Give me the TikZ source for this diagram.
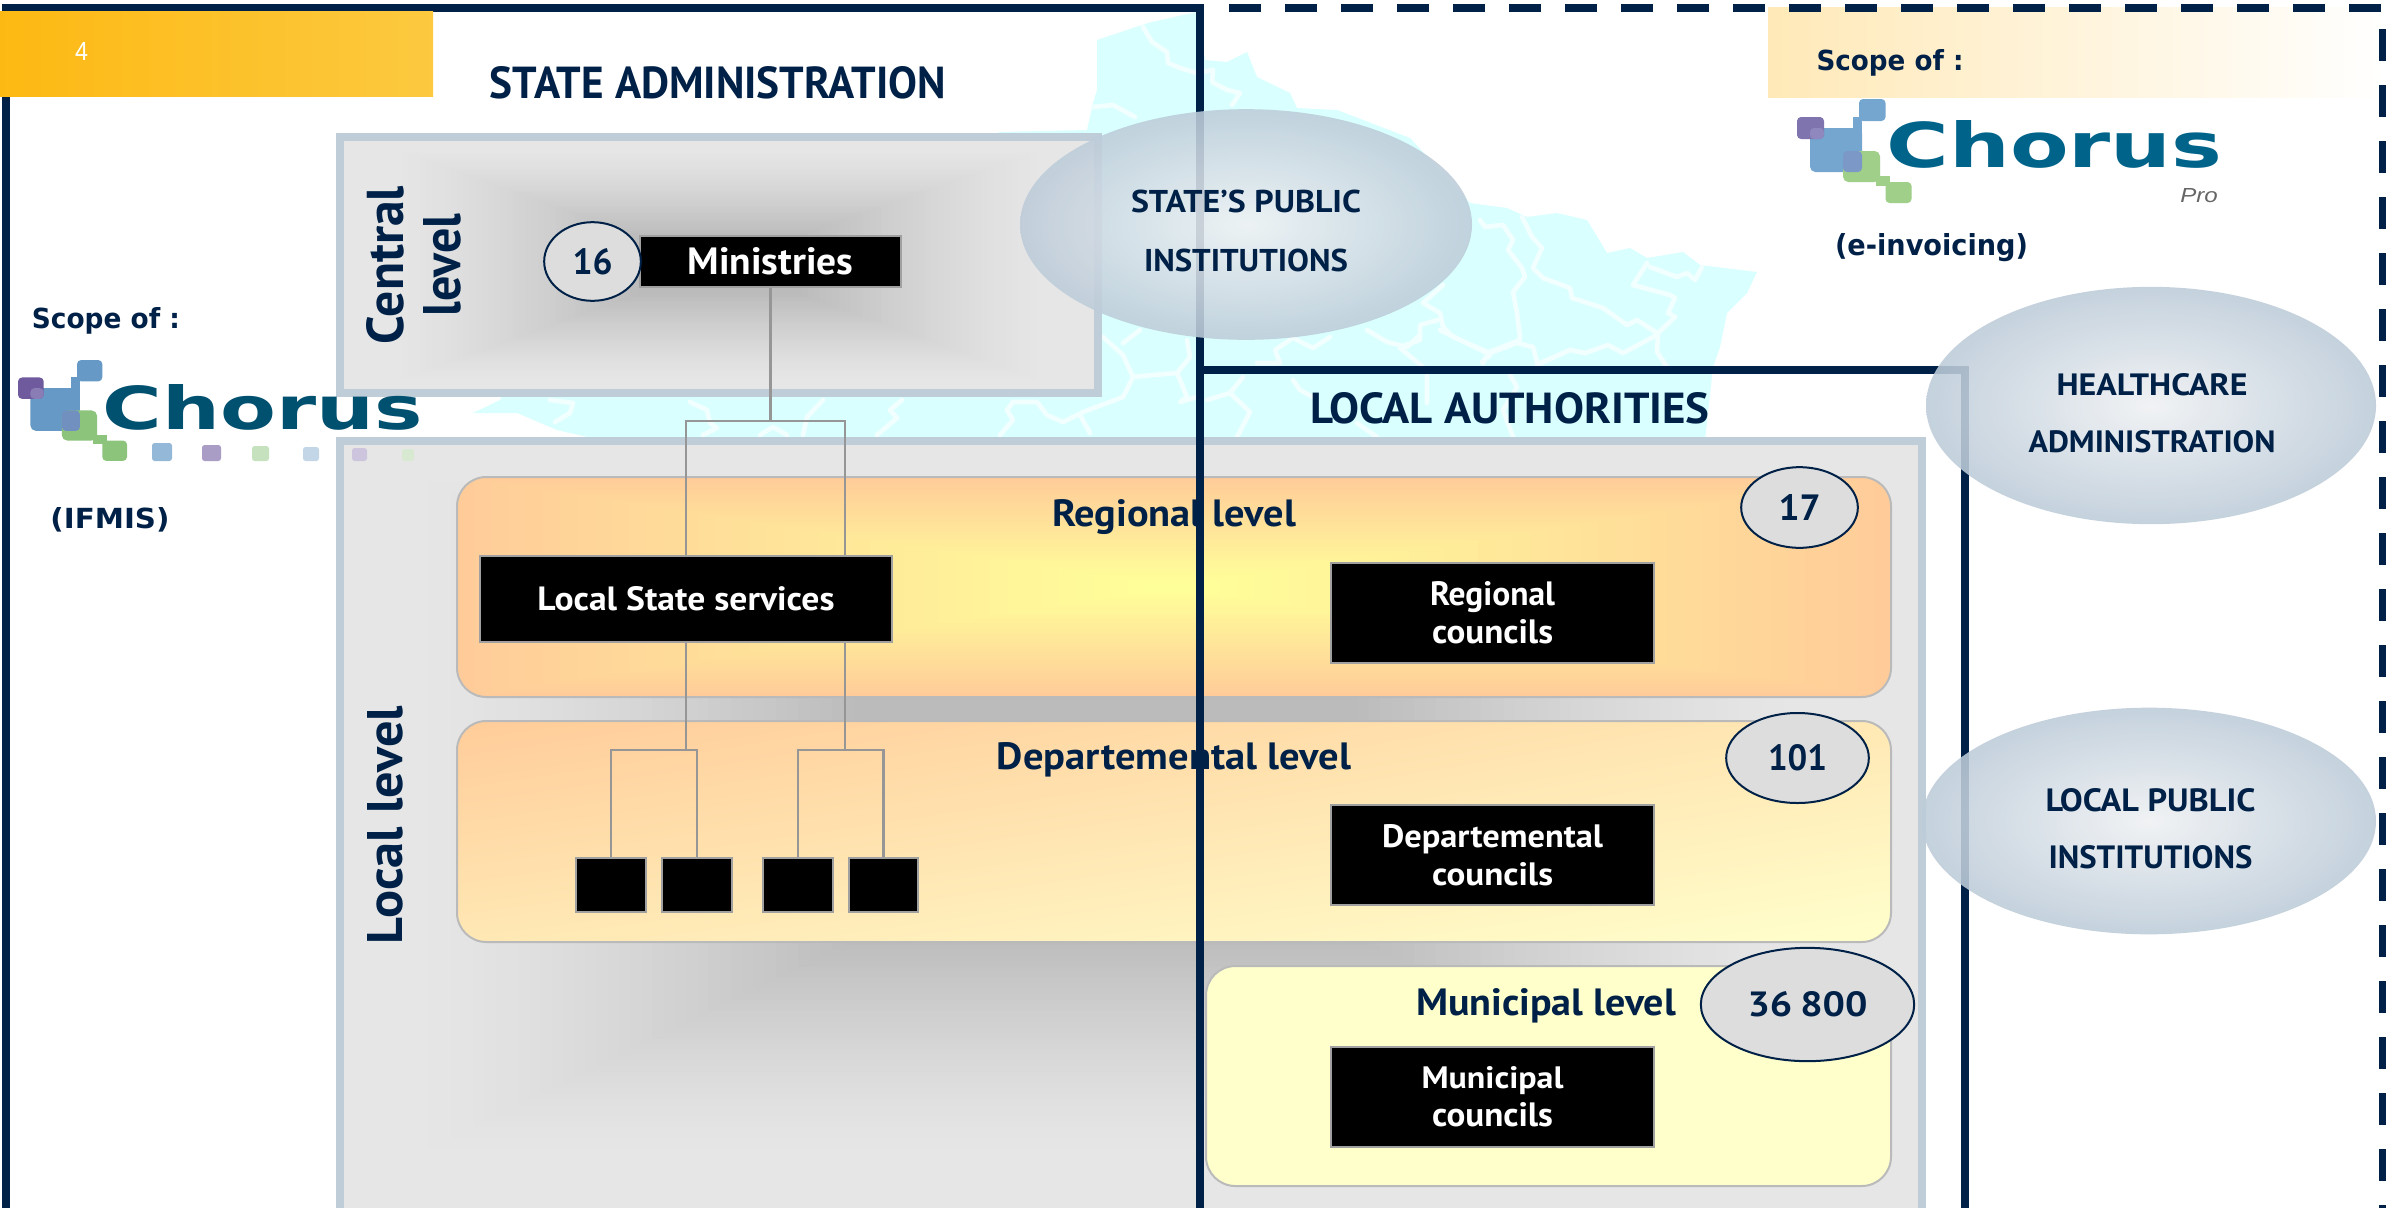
\documentclass[tikz,border=0pt]{standalone}
\usepackage{fontspec}
\usetikzlibrary{shapes.geometric,shadings}
\setmainfont{PT Sans}
\newfontfamily\verd{DejaVu Sans}
\newfontfamily\arial{Liberation Sans}
\newlength\pxu \setlength\pxu{0.75pt}
\newcommand\fit[3]{\resizebox{#1\pxu}{#2\pxu}{#3}}
\definecolor{navy}{HTML}{002147}
\definecolor{panelb}{HTML}{BFCDD9}
\definecolor{conn}{HTML}{969696}
\definecolor{mapc}{HTML}{D9FFFF}
\definecolor{mapl}{HTML}{F2FFFF}
\definecolor{g1}{HTML}{E6E6E6}
\definecolor{g2}{HTML}{BBBBBB}
\definecolor{peach}{HTML}{FFCC99}
\definecolor{ylw}{HTML}{FFFF99}
\definecolor{cream}{HTML}{FFFFCC}
\definecolor{midband}{HTML}{FFE8B4}
\definecolor{tabl}{HTML}{FDB913}
\definecolor{tabr}{HTML}{FCC93F}
\definecolor{beige}{HTML}{FFE9B8}
\definecolor{ovalin}{HTML}{EFF1F3}
\definecolor{ovalout}{HTML}{BDCCD9}
\definecolor{boxline}{HTML}{A0A0A0}
\definecolor{countfill}{HTML}{DDDDDD}
\definecolor{bluea}{HTML}{74A6D0}
\definecolor{purplea}{HTML}{7F74AD}
\definecolor{greena}{HTML}{9FCF88}
\definecolor{overpa}{HTML}{8F88BF}
\definecolor{overga}{HTML}{7C98C6}
\definecolor{blueb}{HTML}{6699C6}
\definecolor{purpleb}{HTML}{6F5A9E}
\definecolor{greenb}{HTML}{8DC47B}
\definecolor{overpb}{HTML}{8A7DB5}
\definecolor{overgb}{HTML}{7190BF}
\definecolor{chorusa}{HTML}{00648A}
\definecolor{chorusb}{HTML}{005070}
% nested rectangles: colour #6 at the rim to #7 at the fraction #5 of the half extents, ramp exponent #8
\newcommand\rectgrad[8]{%
  \foreach \i in {0,...,40}{%
    \pgfmathsetmacro\tv{1-\i/40*(1-#5)}%
    \pgfmathsetmacro\pp{100*pow(\i/40,#8)}%
    \pgfmathsetmacro\xa{#1-\tv*#3}\pgfmathsetmacro\xb{#1+\tv*#3}%
    \pgfmathsetmacro\ya{#2-\tv*#4}\pgfmathsetmacro\yb{#2+\tv*#4}%
    \fill[#7!\pp!#6] (\xa,\ya) rectangle (\xb,\yb);
  }%
}
\newcommand\chorusmark[5]{%
  \fill[#1,rounded corners=4pt] (1810,128) rectangle (1862,172);
  \fill[#1] (1853,117) rectangle (1862,134);
  \fill[#1,rounded corners=3pt] (1859,99) rectangle (1885.5,121);
  \fill[#2,rounded corners=3pt] (1797,117) rectangle (1824,139);
  \fill[#4,rounded corners=3pt] (1810,128) rectangle (1824,139);
  \fill[#3,rounded corners=4pt] (1843,151) rectangle (1880,182);
  \fill[#3] (1876,176) rectangle (1890,186);
  \fill[#3,rounded corners=3pt] (1885.5,182) rectangle (1911.5,203);
  \fill[#5,rounded corners=3pt] (1843,151) rectangle (1862,172);
}
\tikzset{
  panel/.style={draw=panelb,line width=6pt},
  bandline/.style={draw=black!27,line width=1.5pt,rounded corners=22pt},
  blackbox/.style={draw=boxline,line width=1.5pt,fill=black,text=white,inner sep=0pt,align=center,font=\bfseries},
  smallbox/.style={draw=boxline,line width=1.5pt,fill=black,inner sep=0pt,minimum width=52pt,minimum height=40pt},
  tree/.style={draw=conn,line width=2pt},
  frameline/.style={draw=navy,line width=6pt},
  count/.style={ellipse,draw=navy,line width=1.5pt,fill=countfill,inner sep=0pt,text=navy,font=\bfseries},
  oval/.style={ellipse,inner sep=0pt,inner color=ovalin,outer color=ovalout,opacity=.88},
  head/.style={anchor=base,inner sep=0pt,text=navy,font=\bfseries},
  twoline/.style={anchor=south,inner sep=0pt,text=navy,align=center,font=\bfseries\fontsize{20}{#1}\selectfont},
  side/.style={anchor=base,rotate=90,inner sep=0pt,text=navy,font=\bfseries},
  scopetext/.style={anchor=base,inner sep=0pt,text=navy,font=\verd\bfseries},
}
\begin{document}
\begin{tikzpicture}[x=0.75pt,y=-0.75pt]
\path[use as bounding box] (0,0) rectangle (2386,1207);
\clip (0,0) rectangle (2386,1207);
\fill[white] (0,0) rectangle (2386,1207);
% map
\fill[mapc] (1097,40)--(1148,23)--(1183,15)--(1197,12)--(1205,60)--(1227,62)--(1247,52)--(1257,77)--(1290,93)--(1297,108)--(1337,110)--(1410,138)--(1470,203)--(1507,208)--(1527,217)--(1557,213)--(1587,220)--(1607,253)--(1630,248)--(1647,258)--(1683,252)--(1700,265)--(1757,272)--(1747,293)--(1727,313)--(1720,347)--(1713,367)--(1705,440)--(600,440)--(557,430)--(517,413)--(473,413)--(500,400)--(505,390)--(600,300)--(1000,132)--(1087,130)--(1093,103)--(1097,90)--cycle;
\draw[mapl,line width=3.5pt,line join=round,line cap=round]
 (1143,27)--(1152,42)--(1167,52)--(1168,63)--(1180,68)--(1197,73)--(1213,70)--(1212,82)--(1227,90)--(1240,93)--(1232,105)
 (1093,107)--(1113,105)--(1135,117)
 (1480,220)--(1485,227)--(1503,225)--(1513,240)--(1508,250)--(1522,268)--(1525,277)--(1513,292)--(1517,313)--(1520,337)--(1517,343)--(1533,347)--(1537,362)
 (1522,217)--(1532,237)--(1542,248)--(1533,268)--(1543,278)--(1570,288)--(1572,298)--(1603,308)--(1627,325)--(1637,320)--(1657,333)
 (1647,263)--(1633,285)--(1670,295)--(1675,298)--(1668,313)--(1675,317)--(1658,333)--(1657,352)--(1667,367)
 (1650,267)--(1677,277)--(1687,273)--(1695,280)--(1702,267)
 (1657,335)--(1623,353)--(1608,345)--(1585,353)--(1570,350)--(1540,363)
 (1443,285)--(1423,303)--(1440,313)--(1443,327)--(1453,337)--(1490,353)--(1517,343)
 (1438,320)--(1420,325)--(1420,340)--(1400,347)
 (1490,355)--(1482,362)
 (1103,337)--(1123,355)--(1133,377)--(1123,397)--(1083,412)--(1063,422)--(1047,415)--(1037,402)--(1013,402)--(1007,410)--(1013,420)--(1000,435)
 (1133,377)--(1153,375)--(1177,373)--(1187,397)--(1180,402)--(1197,397)
 (1140,330)--(1123,343)
 (1187,340)--(1190,357)--(1177,373)
 (1080,415)--(1090,433)
 (902,400)--(890,410)--(897,418)--(877,435)
 (1207,400)--(1230,393)--(1243,377)
 (1230,393)--(1250,412)--(1237,437)
 (1257,363)--(1280,363)--(1275,350)--(1290,340)
 (1293,338)--(1313,348)--(1330,337)
 (1367,330)--(1387,342)--(1407,347)--(1420,335)
 (1400,348)--(1423,367)
 (1440,330)--(1487,353)--(1520,340)
 (1487,355)--(1483,363)
 (1293,380)--(1300,390)--(1313,397)
 (1427,373)--(1427,403)
 (1510,375)--(1517,387)--(1503,410)--(1513,437)
 (1537,365)--(1570,350)
 (1357,423)--(1377,437)
 (550,400)--(573,403)--(570,413)--(555,422)
 (690,402)--(707,410)--(710,423)--(717,428)--(703,435)
 (823,400)--(807,417)--(803,435)
 (760,435)--(773,427)--(787,435);
% beige strip
\shade[left color=beige,right color=white] (1768,7) rectangle (2386,97);
% central panel
\begin{scope}
  \clip (340,137) rectangle (1098,393);
  \fill[g1] (340,137) rectangle (1098,393);
  \rectgrad{719}{265}{330}{118}{.25}{g1}{g2}{1.3}
\end{scope}
\draw[panel] (340,137) rectangle (1098,393);
% local panel
\begin{scope}
  \clip (340,441) rectangle (1922,1300);
  \fill[g1] (340,441) rectangle (1922,1300);
  \rectgrad{1106}{815}{700}{345}{.36}{g1}{g2}{1.4}
\end{scope}
\draw[panel] (340,441) rectangle (1922,1300);
% bands
\begin{scope}
  \clip[rounded corners=22pt] (457,477) rectangle (1891,697);
  \fill[peach] (457,477) rectangle (1891,697);
  \rectgrad{1174}{587}{717}{110}{.04}{peach}{ylw}{1}
\end{scope}
\draw[bandline] (457,477) rectangle (1891,697);
\shade[rounded corners=22pt,upper left=peach,lower right=cream,upper right=midband,lower left=midband] (457,721) rectangle (1891,942);
\draw[bandline] (457,721) rectangle (1891,942);
\fill[cream,rounded corners=22pt] (1206,966) rectangle (1891,1186);
\draw[bandline] (1206,966) rectangle (1891,1186);
% band headings
\node[head] (hreg) at (1174,526) {\fit{244}{27}{Regional level}};
\node[head] (hdep) at (1174,769) {\fit{354}{27}{Departemental level}};
\node[head] (hmun) at (1546,1015) {\fit{260}{27}{Municipal level}};
% black boxes
\node[blackbox,minimum width=196pt,minimum height=38pt] (mini) at (770.5,261.5) {\fit{166}{27}{Ministries}};
\node[blackbox,minimum width=309pt,minimum height=64.5pt] (lss) at (686,599) {\fit{297}{24}{Local State services}};
\node[smallbox] (sa) at (611,885) {};
\node[smallbox] (sb) at (697,885) {};
\node[smallbox] (sc) at (798,885) {};
\node[smallbox] (sd) at (883.5,885) {};
\tikzset{blackbox/.append style={minimum width=242pt,minimum height=75pt,font=\bfseries\fontsize{20}{28.5}\selectfont}}
\node[blackbox] (rc) at (1492.5,612.5) {\fit{125}{24}{Regional}\\\fit{121}{24}{councils}};
\node[blackbox] (dc) at (1492.5,855) {\fit{221}{23}{Departemental}\\\fit{121}{23}{councils}};
\node[blackbox] (mc) at (1492.5,1096.5) {\fit{142}{22}{Municipal}\\\fit{121}{24}{councils}};
% tree
\coordinate (jm) at (770.5,421);
\coordinate (jl) at (686,421);
\coordinate (jr) at (845,421);
\coordinate (dl) at (686,750);
\coordinate (dr) at (845,750);
\draw[tree] (mini.south) -- (jm);
\draw[tree] (lss.north) -- (jl) -- (jr) -- (jr |- lss.north);
\draw[tree] (lss.south) -- (dl);
\draw[tree] (jr |- lss.south) -- (dr);
\draw[tree] (sa.north) |- (dl) -| (sb.north);
\draw[tree] (sc.north) |- (dr) -| (sd.north);
% side labels
\node[side] (lc) at (403,265) {\fit{158}{37}{Central}};
\node[side] (ll) at (460,265) {\fit{103}{37}{level}};
\node[side] (lo) at (402,825) {\fit{238}{35}{Local level}};
% frames
\draw[frameline] (6,1220) -- (6,8) -- (1200,8) -- (1200,1220);
\draw[frameline] (1200,370) -- (1965,370) -- (1965,1220);
\draw[frameline,dash pattern=on 24pt off 18pt] (1229,8) -- (2386,8);
\draw[frameline,dash pattern=on 24pt off 18pt] (2383,29) -- (2383,1220);
% slide tab
\shade[left color=tabl,right color=tabr] (0,11.5) rectangle (433,96.5);
\node[anchor=base,inner sep=0pt,text=white,font=\arial] (num) at (81.5,60) {\fit{13}{18}{4}};
% titles
\node[head] (tstate) at (718,98.5) {\fit{456}{32}{STATE ADMINISTRATION}};
\node[head] (tlocal) at (1510,423) {\fit{399}{31}{LOCAL AUTHORITIES}};
% left logo
\begin{scope}[shift={(-1692.7,264)},xscale=.952,yscale=.97]
  \chorusmark{blueb}{purpleb}{greenb}{overpb}{overgb}
\end{scope}
\fill[blueb!70!white,rounded corners=2pt] (152,443) rectangle (172,461);
\fill[purpleb!60!white,rounded corners=2pt] (202,445) rectangle (221,461);
\fill[greenb!50!white,rounded corners=2pt] (252,446) rectangle (269,461);
\fill[blueb!40!white,rounded corners=2pt] (303,447) rectangle (319,461);
\fill[purpleb!35!white,rounded corners=2pt] (352,448) rectangle (367,461);
\fill[greenb!35!white,rounded corners=2pt] (402,449) rectangle (414,461);
\node[anchor=base,inner sep=0pt,text=chorusb,font=\verd\bfseries] (lgl) at (263,429) {\fit{320}{45}{Chorus}};
\node[scopetext] (scl) at (106,328) {\fit{148}{21}{Scope of :}};
\node[scopetext] (ifm) at (110,528) {\fit{119}{21}{(IFMIS)}};
% right logo
\chorusmark{bluea}{purplea}{greena}{overpa}{overga}
\node[anchor=base,inner sep=0pt,text=chorusa,font=\verd\bfseries] (lgr) at (2054.5,167) {\fit{336}{47}{Chorus}};
\node[anchor=base,inner sep=0pt,text=black!60,font=\arial\itshape] (pro) at (2199,202) {\fit{37.5}{14}{Pro}};
\node[scopetext] (scr) at (1890,70) {\fit{147}{21}{Scope of :}};
\node[scopetext] (inv) at (1931.5,255) {\fit{193}{22}{(e-invoicing)}};
% counts
\node[count,minimum width=72.5pt,minimum height=59pt] (c16) at (592.5,261.5) {\fit{40}{26}{16}};
\node[count,minimum width=87.5pt,minimum height=60.5pt] (c17) at (1799.5,507.5) {\fit{42}{26}{17}};
\node[count,minimum width=107pt,minimum height=67.5pt] (c101) at (1797.5,758) {\fit{59}{26}{101}};
\node[count,minimum width=160pt,minimum height=85pt] (c368) at (1807.5,1004.5) {\fit{120}{25}{36 \hspace{-.05em}800}};
% ovals
\node[oval,minimum width=339pt,minimum height=173pt] (ospi) at (1246,224.5) {};
\node[oval,minimum width=337.5pt,minimum height=178pt] (ohea) at (2151,405.5) {};
\node[oval,minimum width=340.5pt,minimum height=170pt] (olpi) at (2149,821) {};
\node[twoline=44.25] (tspi) at (1246,272) {\fit{230}{22.5}{STATE’S PUBLIC}\\\fit{204}{22.5}{INSTITUTIONS}};
\node[twoline=42.75] (thea) at (2152,453.5) {\fit{191}{22}{HEALTHCARE}\\\fit{247}{22}{ADMINISTRATION}};
\node[twoline=42.75] (tlpi) at (2150.5,869) {\fit{210}{23}{LOCAL PUBLIC}\\\fit{204}{23}{INSTITUTIONS}};
\end{tikzpicture}
\end{document}
